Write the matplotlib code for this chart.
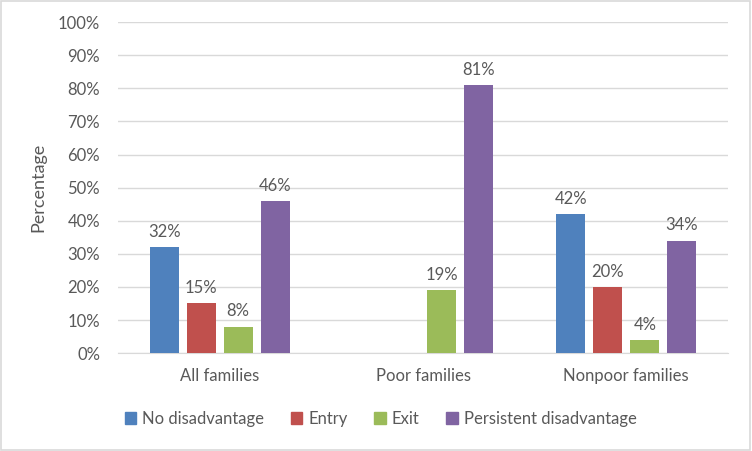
import numpy as np
import matplotlib
matplotlib.use("Agg")
from matplotlib import pyplot as plt
from matplotlib.patches import Rectangle

categories = ["All families", "Poor families", "Nonpoor families"]
series = ["No disadvantage", "Entry", "Exit", "Persistent disadvantage"]
no_disadv = [32, None, 42]
entry = [15, None, 20]
exit_ = [8, 19, 4]
persistent = [46, 81, 34]
colors = ["#4F81BD", "#C0504D", "#9BBB59", "#8064A2"]

plt.rcParams['font.family'] = ['Lato', 'DejaVu Sans']
txt = "#595959"
fs = 12

fig = plt.figure(figsize=(7.52, 4.51), dpi=100)
ax = fig.add_axes([0.157, 0.217, 0.811, 0.734])

x = np.arange(len(categories))
w = 0.143
step = 0.182
data = [no_disadv, entry, exit_, persistent]
for i, vals in enumerate(data):
    pos = x + (i - 1.5) * step
    for p, v in zip(pos, vals):
        if v is None:
            continue
        ax.bar(p, v, width=w, color=colors[i], zorder=3)
        ax.text(p, v + 2.2, "%d%%" % v, ha="center", va="bottom", fontsize=fs, color=txt)

ax.set_xlim(-0.5, 2.5)
ax.set_ylim(0, 100)
ax.set_yticks(range(0, 101, 10))
ax.set_yticklabels(["%d%%" % t for t in range(0, 101, 10)])
ax.set_xticks(x)
ax.set_xticklabels(categories)
ax.grid(axis="y", color="#D9D9D9", linewidth=1, zorder=0)
for s in ["top", "right", "left"]:
    ax.spines[s].set_visible(False)
ax.spines["bottom"].set_color("#D9D9D9")
ax.tick_params(axis="both", length=0, colors=txt, labelsize=fs)
ax.tick_params(axis="x", pad=11)
ax.tick_params(axis="y", pad=13)
ax.set_ylabel("Percentage", fontsize=13, color=txt, labelpad=8)

handles = [Rectangle((0, 0), 1, 1, color=c) for c in colors]
fig.legend(handles, series, loc="center", bbox_to_anchor=(0.506, 0.071), ncol=4,
           frameon=False, fontsize=fs, labelcolor=txt, handlelength=0.7,
           handleheight=0.7, handletextpad=0.35, columnspacing=1.6)

fig.patches.append(Rectangle((0.001, 0.002), 0.997, 0.996, transform=fig.transFigure,
                             fill=False, edgecolor="#D9D9D9", linewidth=1.2))

fig.savefig("out.png", dpi=100)
